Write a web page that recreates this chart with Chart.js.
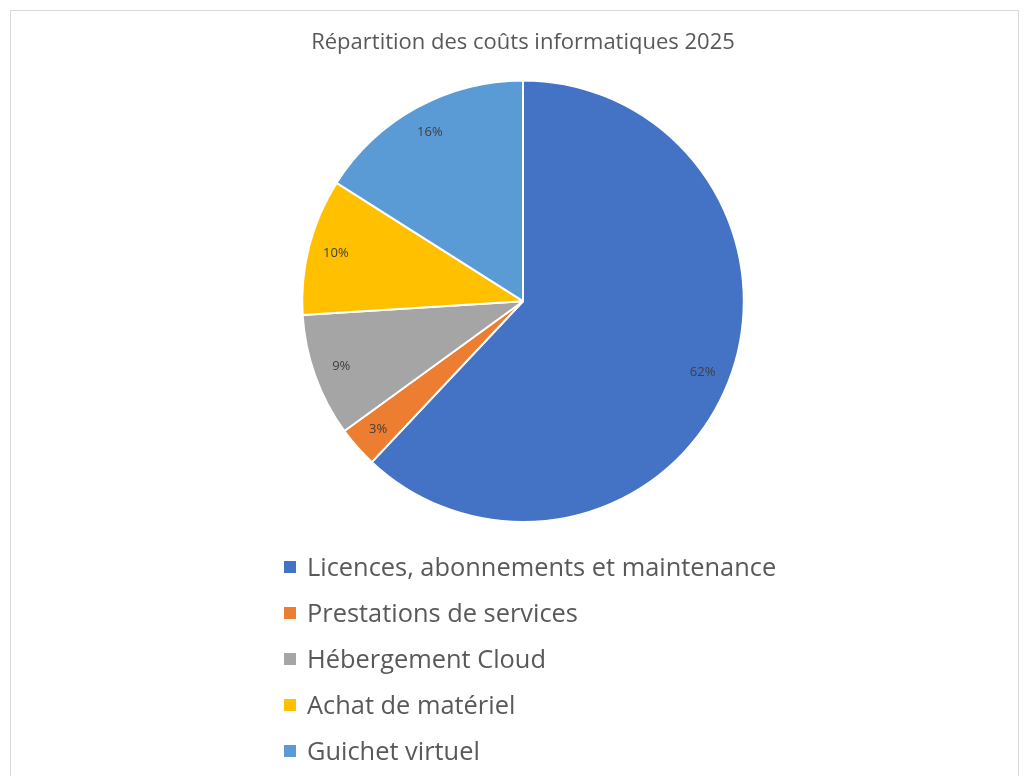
<!DOCTYPE html>
<html>
<head>
<meta charset="utf-8">
<script src="https://cdn.jsdelivr.net/npm/chart.js@4/dist/chart.umd.min.js"></script>
<style>
  body { margin: 0; background: #fff; font-family: "Open Sans", sans-serif; }
  #frame { position: absolute; left: 10px; top: 10px; width: 1007px; height: 800px; border: 1px solid #d9d9d9; }
  #wrap { position: absolute; left: 0; top: 0; width: 1028px; height: 545px; }
  #legend { position: absolute; left: 284px; top: 543px; list-style: none; margin: 0; padding: 0; }
  #legend li { height: 46px; line-height: 46px; font-size: 25.4px; color: #595959; white-space: nowrap; }
  #legend span { display: inline-block; width: 12px; height: 12px; margin-right: 11px; vertical-align: middle; position: relative; top: -2px; }
</style>
</head>
<body>
<div id="frame"></div>
<div id="wrap"><canvas id="pieChart"></canvas></div>
<ul id="legend"></ul>
<script>
var labels = ['Licences, abonnements et maintenance', 'Prestations de services', 'Hébergement Cloud', 'Achat de matériel', 'Guichet virtuel'];
var values = [62, 3, 9, 10, 16];
var colors = ['#4472C4', '#ED7D31', '#A5A5A5', '#FFC000', '#5B9BD5'];

// percentage labels drawn inside each slice, near the outer edge
var sliceLabels = {
    id: 'sliceLabels',
    afterDatasetsDraw: function(chart) {
        var ctx = chart.ctx;
        var total = values.reduce((a, b) => a + b, 0);
        ctx.save();
        ctx.font = '13px "Open Sans"';
        ctx.fillStyle = '#404040';
        ctx.textAlign = 'center';
        ctx.textBaseline = 'middle';
        chart.getDatasetMeta(0).data.forEach(function(arc, i) {
            var mid = (arc.startAngle + arc.endAngle) / 2;
            var r = arc.outerRadius * 0.875;
            var pct = Math.round(values[i] / total * 100) + '%';
            ctx.fillText(pct, arc.x + Math.cos(mid) * r, arc.y + Math.sin(mid) * r);
        });
        ctx.restore();
    }
};

var ctx = document.getElementById('pieChart').getContext('2d');
var chart = new Chart(ctx, {
    type: 'pie',
    data: {
        labels: labels,
        datasets: [{
            data: values,
            backgroundColor: colors,
            borderColor: '#ffffff',
            borderWidth: 2
        }]
    },
    options: {
        responsive: true,
        maintainAspectRatio: false,
        animation: false,
        layout: { padding: { left: 18, right: 0, top: 0, bottom: 22 } },
        plugins: {
            legend: { display: false },
            tooltip: { enabled: false },
            title: {
                display: true,
                text: 'Répartition des coûts informatiques 2025',
                color: '#595959',
                font: { family: 'Open Sans', size: 22, weight: 'normal' },
                padding: { top: 30, bottom: 23 }
            }
        }
    },
    plugins: [sliceLabels]
});

var legend = document.getElementById('legend');
labels.forEach(function(name, i) {
    var li = document.createElement('li');
    var box = document.createElement('span');
    box.style.background = colors[i];
    li.appendChild(box);
    li.appendChild(document.createTextNode(name));
    legend.appendChild(li);
});
</script>
</body>
</html>
